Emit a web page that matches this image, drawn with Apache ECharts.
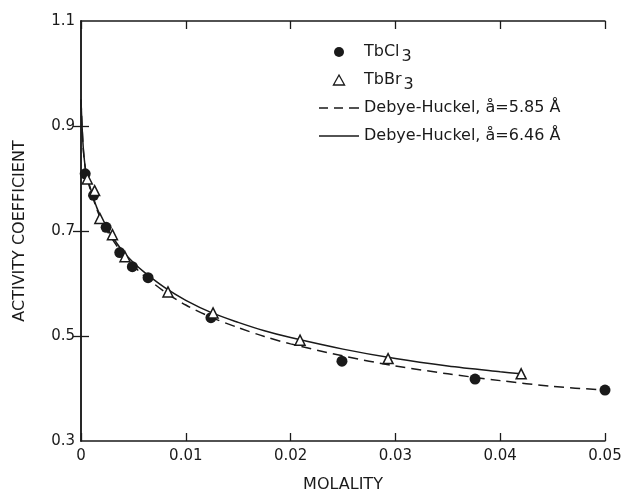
<!DOCTYPE html>
<html>
<head>
<meta charset="utf-8">
<script src="https://cdn.jsdelivr.net/npm/echarts@6/dist/echarts.min.js"></script>
<style>
html,body{margin:0;padding:0;background:#fff;}
#c{width:625px;height:498px;}
</style>
</head>
<body>
<div id="c"></div>
<script>
// ---- data ----
const xTickValues = [0, 0.01, 0.02, 0.03, 0.04, 0.05];
const yLabelValues = [0.3, 0.5, 0.7, 0.9, 1.1];
const yTickValues = [0.5, 0.7, 0.9];

const tbcl3 = [
  [0.0004, 0.809], [0.0012, 0.768], [0.0024, 0.707], [0.0037, 0.659],
  [0.0049, 0.632], [0.0064, 0.611], [0.0124, 0.535], [0.0249, 0.452],
  [0.0376, 0.418], [0.0500, 0.397]
];
const tbbr3 = [
  [0.0006, 0.799], [0.0013, 0.777], [0.0018, 0.724], [0.0030, 0.693],
  [0.0042, 0.651], [0.0083, 0.584], [0.0126, 0.544], [0.0209, 0.492],
  [0.0293, 0.457], [0.0420, 0.428]
];
const dh585 = [
  [0, 0.950], [0.0001, 0.899], [0.00025, 0.848], [0.0005, 0.808], [0.001, 0.772],
  [0.0015, 0.742], [0.002, 0.718], [0.003, 0.684], [0.004, 0.656], [0.005, 0.634],
  [0.006, 0.615], [0.008, 0.584], [0.010, 0.559], [0.0125, 0.535], [0.015, 0.516],
  [0.0175, 0.499], [0.020, 0.485], [0.025, 0.462], [0.030, 0.443], [0.035, 0.428],
  [0.040, 0.415], [0.045, 0.404], [0.050, 0.397]
];
const dh646 = [
  [0, 0.950], [0.0001, 0.900], [0.00025, 0.850], [0.0005, 0.810], [0.001, 0.775],
  [0.0015, 0.745], [0.002, 0.722], [0.003, 0.689], [0.004, 0.661], [0.005, 0.640],
  [0.006, 0.622], [0.008, 0.592], [0.010, 0.568], [0.0125, 0.544], [0.015, 0.526],
  [0.0175, 0.510], [0.020, 0.497], [0.025, 0.475], [0.030, 0.457], [0.035, 0.443],
  [0.040, 0.432], [0.042, 0.428]
];

const names = ['TbCl3', 'TbBr3', 'Debye-Huckel, å=5.85 Å', 'Debye-Huckel, å=6.46 Å'];

const FONT = 'DejaVu Sans';
const INK = '#1a1a1a';

const chart = echarts.init(document.getElementById('c'), null, {renderer: 'canvas'});
const decoAxis = {
  type: 'value', min: 0, max: 0.05, interval: 0.01,
  axisLine: {show: true, lineStyle: {color: INK, width: 1.5}},
  axisTick: {show: true, inside: true, length: 8, lineStyle: {color: INK, width: 1.3}},
  axisLabel: {show: false}, splitLine: {show: false}
};
chart.setOption({
  backgroundColor: '#fff',
  animation: false,
  grid: {left: 81, right: 20, top: 21, bottom: 57},
  xAxis: [
    {
      type: 'value', min: 0, max: 0.05, interval: 0.01, position: 'bottom',
      name: 'MOLALITY', nameLocation: 'middle', nameGap: 36,
      nameTextStyle: {fontFamily: FONT, fontSize: 16, color: INK},
      axisLine: {show: true, lineStyle: {color: INK, width: 1.5}},
      axisTick: {show: true, inside: true, length: 8, lineStyle: {color: INK, width: 1.3}},
      axisLabel: {fontFamily: FONT, fontSize: 15, color: INK, margin: 8,
        customValues: xTickValues},
      splitLine: {show: false}
    },
    Object.assign({}, decoAxis, {position: 'top'})
  ],
  yAxis: [
    {
      type: 'value', min: 0.3, max: 1.1, position: 'left',
      name: 'ACTIVITY COEFFICIENT', nameLocation: 'middle', nameGap: 53,
      nameTextStyle: {fontFamily: FONT, fontSize: 16, color: INK},
      axisLine: {show: true, lineStyle: {color: INK, width: 1.5}},
      axisTick: {show: true, inside: true, length: 8, lineStyle: {color: INK, width: 1.3},
        customValues: yTickValues},
      axisLabel: {fontFamily: FONT, fontSize: 15, color: INK, margin: 6,
        customValues: yLabelValues},
      splitLine: {show: false}
    },
    {
      type: 'value', min: 0.3, max: 1.1, position: 'right',
      axisLine: {show: true, lineStyle: {color: INK, width: 1.5}},
      axisTick: {show: true, inside: true, length: 8, lineStyle: {color: INK, width: 1.3},
        customValues: yTickValues},
      axisLabel: {show: false}, splitLine: {show: false}
    }
  ],
  legend: {
    orient: 'vertical', left: 314, top: 33,
    itemWidth: 40, itemHeight: 10, itemGap: 0,
    data: [
      {name: names[0], icon: 'circle', itemStyle: {color: INK, opacity: 1}},
      {name: names[1], icon: 'path://M5,0L10,9L0,9Z',
        itemStyle: {color: '#fff', borderColor: INK, borderWidth: 1.3}},
      {name: names[2], icon: 'path://M0,0h9v1.5h-9z M15,0h9v1.5h-9z M30,0h10v1.5h-10z',
        itemStyle: {color: INK}},
      {name: names[3], icon: 'path://M0,0h40v1.5h-40z', itemStyle: {color: INK}}
    ],
    textStyle: {fontFamily: FONT, fontSize: 16, color: INK, lineHeight: 28,
      rich: {
        n: {fontFamily: FONT, fontSize: 16, color: INK, lineHeight: 28},
        s: {fontFamily: FONT, fontSize: 16, color: INK, lineHeight: 18, padding: [10, 0, 0, 2]}
      }
    },
    formatter: function (n) {
      if (n === 'TbCl3') return '{n|TbCl}{s|3}';
      if (n === 'TbBr3') return '{n|TbBr}{s|3}';
      return n;
    }
  },
  series: [
    {
      name: names[2], type: 'line', data: dh585, symbol: 'none', smooth: 0.3,
      lineStyle: {color: INK, width: 1.5, type: [10, 6]}, itemStyle: {color: INK}, z: 2
    },
    {
      name: names[3], type: 'line', data: dh646, symbol: 'none', smooth: 0.3,
      lineStyle: {color: INK, width: 1.5, type: 'solid'}, itemStyle: {color: INK}, z: 2
    },
    {
      name: names[0], type: 'scatter', data: tbcl3, symbol: 'circle', symbolSize: 11,
      itemStyle: {color: INK, borderColor: INK, borderWidth: 0, opacity: 1}, z: 4
    },
    {
      name: names[1], type: 'scatter', data: tbbr3, symbol: 'triangle', symbolSize: 10,
      itemStyle: {color: '#fff', borderColor: INK, borderWidth: 1.5, opacity: 1}, z: 5
    }
  ]
});
</script>
</body>
</html>
